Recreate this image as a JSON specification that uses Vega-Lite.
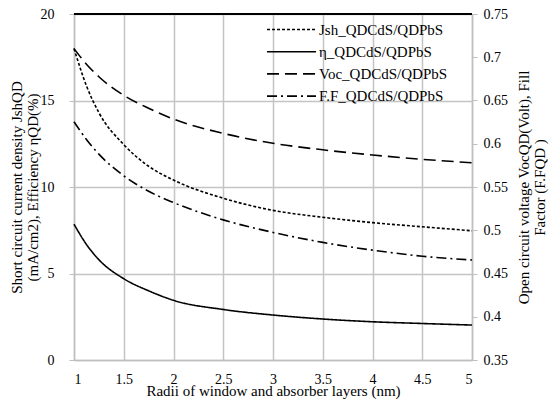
{
  "$schema": "https://vega.github.io/schema/vega-lite/v6.json",
  "width": 398,
  "height": 346,
  "autosize": "none",
  "padding": {"left": 74, "top": 14, "right": 77, "bottom": 45},
  "background": "white",
  "config": {
    "font": "Liberation Serif",
    "view": {"stroke": null},
    "axis": {
      "labelFont": "Liberation Serif",
      "titleFont": "Liberation Serif",
      "labelFontSize": 14,
      "titleFontSize": 15,
      "titleFontWeight": "normal",
      "labelColor": "black",
      "titleColor": "black",
      "domainColor": "#bfbfbf",
      "domainWidth": 1.5,
      "gridColor": "#c4c4c4",
      "gridWidth": 1.5,
      "gridOpacity": 1,
      "tickColor": "#bfbfbf"
    },
    "legend": {
      "labelFont": "Liberation Serif",
      "labelFontSize": 15,
      "labelColor": "black"
    }
  },
  "data": {
    "values": [
      {"series": "Jsh_QDCdS/QDPbS", "x": 1, "v": 18.0},
      {"series": "Jsh_QDCdS/QDPbS", "x": 1.125, "v": 15.85},
      {"series": "Jsh_QDCdS/QDPbS", "x": 1.25, "v": 14.3},
      {"series": "Jsh_QDCdS/QDPbS", "x": 1.5, "v": 12.45},
      {"series": "Jsh_QDCdS/QDPbS", "x": 1.75, "v": 11.2},
      {"series": "Jsh_QDCdS/QDPbS", "x": 2, "v": 10.4},
      {"series": "Jsh_QDCdS/QDPbS", "x": 2.5, "v": 9.35},
      {"series": "Jsh_QDCdS/QDPbS", "x": 3, "v": 8.65},
      {"series": "Jsh_QDCdS/QDPbS", "x": 3.5, "v": 8.25},
      {"series": "Jsh_QDCdS/QDPbS", "x": 4, "v": 7.94},
      {"series": "Jsh_QDCdS/QDPbS", "x": 4.5, "v": 7.7},
      {"series": "Jsh_QDCdS/QDPbS", "x": 5, "v": 7.47},
      {"series": "η_QDCdS/QDPbS", "x": 1, "v": 7.85},
      {"series": "η_QDCdS/QDPbS", "x": 1.125, "v": 6.68},
      {"series": "η_QDCdS/QDPbS", "x": 1.25, "v": 5.8},
      {"series": "η_QDCdS/QDPbS", "x": 1.5, "v": 4.7},
      {"series": "η_QDCdS/QDPbS", "x": 1.75, "v": 4.0},
      {"series": "η_QDCdS/QDPbS", "x": 2, "v": 3.45},
      {"series": "η_QDCdS/QDPbS", "x": 2.5, "v": 2.92},
      {"series": "η_QDCdS/QDPbS", "x": 3, "v": 2.6},
      {"series": "η_QDCdS/QDPbS", "x": 3.5, "v": 2.37},
      {"series": "η_QDCdS/QDPbS", "x": 4, "v": 2.21},
      {"series": "η_QDCdS/QDPbS", "x": 4.5, "v": 2.11},
      {"series": "η_QDCdS/QDPbS", "x": 5, "v": 2.02},
      {"series": "Voc_QDCdS/QDPbS", "x": 1, "v": 0.710},
      {"series": "Voc_QDCdS/QDPbS", "x": 1.125, "v": 0.692},
      {"series": "Voc_QDCdS/QDPbS", "x": 1.25, "v": 0.6775},
      {"series": "Voc_QDCdS/QDPbS", "x": 1.5, "v": 0.656},
      {"series": "Voc_QDCdS/QDPbS", "x": 1.75, "v": 0.641},
      {"series": "Voc_QDCdS/QDPbS", "x": 2, "v": 0.6285},
      {"series": "Voc_QDCdS/QDPbS", "x": 2.5, "v": 0.612},
      {"series": "Voc_QDCdS/QDPbS", "x": 3, "v": 0.6005},
      {"series": "Voc_QDCdS/QDPbS", "x": 3.5, "v": 0.593},
      {"series": "Voc_QDCdS/QDPbS", "x": 4, "v": 0.587},
      {"series": "Voc_QDCdS/QDPbS", "x": 4.5, "v": 0.582},
      {"series": "Voc_QDCdS/QDPbS", "x": 5, "v": 0.578},
      {"series": "F.F_QDCdS/QDPbS", "x": 1, "v": 0.6255},
      {"series": "F.F_QDCdS/QDPbS", "x": 1.125, "v": 0.605},
      {"series": "F.F_QDCdS/QDPbS", "x": 1.25, "v": 0.588},
      {"series": "F.F_QDCdS/QDPbS", "x": 1.5, "v": 0.563},
      {"series": "F.F_QDCdS/QDPbS", "x": 1.75, "v": 0.545},
      {"series": "F.F_QDCdS/QDPbS", "x": 2, "v": 0.532},
      {"series": "F.F_QDCdS/QDPbS", "x": 2.5, "v": 0.512},
      {"series": "F.F_QDCdS/QDPbS", "x": 3, "v": 0.4975},
      {"series": "F.F_QDCdS/QDPbS", "x": 3.5, "v": 0.486},
      {"series": "F.F_QDCdS/QDPbS", "x": 4, "v": 0.477},
      {"series": "F.F_QDCdS/QDPbS", "x": 4.5, "v": 0.470},
      {"series": "F.F_QDCdS/QDPbS", "x": 5, "v": 0.4656}
    ]
  },
  "layer": [
    {
      "transform": [{"filter": {"field": "series", "oneOf": ["Jsh_QDCdS/QDPbS", "η_QDCdS/QDPbS"]}}],
      "mark": {"type": "line", "color": "black", "strokeWidth": 1.6, "interpolate": "monotone"},
      "encoding": {
        "x": {
          "field": "x", "type": "quantitative",
          "scale": {"domain": [1, 5], "nice": false, "zero": false},
          "axis": {
            "values": [1, 1.5, 2, 2.5, 3, 3.5, 4, 4.5, 5],
            "format": ".1~f",
            "grid": true, "ticks": false, "labelPadding": 12,
            "title": "Radii of window and absorber layers (nm)",
            "titlePadding": -3
          }
        },
        "y": {
          "field": "v", "type": "quantitative",
          "scale": {"domain": [0, 20], "nice": false},
          "axis": {
            "orient": "left",
            "values": [0, 5, 10, 15, 20],
            "grid": true, "tickSize": 5, "labelPadding": 15,
            "title": ["Short circuit current density JshQD", "(mA/cm2), Efficiency ηQD(%)"],
            "titleLineHeight": 16,
            "titlePadding": 0
          }
        },
        "strokeDash": {
          "field": "series", "type": "nominal",
          "scale": {
            "domain": ["Jsh_QDCdS/QDPbS", "η_QDCdS/QDPbS", "Voc_QDCdS/QDPbS", "F.F_QDCdS/QDPbS"],
            "range": [[3, 2], [1, 0], [12, 6], [10, 4, 2, 4]]
          },
          "legend": {
            "orient": "none", "legendX": 204, "legendY": 2,
            "title": null, "symbolType": "M-2,0H2", "symbolSize": 600,
            "symbolStrokeWidth": 1.6, "symbolStrokeColor": "black",
            "symbolFillColor": "transparent",
            "labelOffset": 14, "rowPadding": 0.2
          }
        }
      }
    },
    {
      "layer": [
        {
          "transform": [{"filter": {"field": "series", "oneOf": ["Voc_QDCdS/QDPbS", "F.F_QDCdS/QDPbS"]}}],
          "mark": {"type": "line", "color": "black", "strokeWidth": 1.6, "interpolate": "monotone"},
          "encoding": {
            "x": {"field": "x", "type": "quantitative", "scale": {"domain": [1, 5], "nice": false, "zero": false}},
            "y": {
              "field": "v", "type": "quantitative",
              "scale": {"domain": [0.35, 0.75], "nice": false, "zero": false},
              "axis": {
                "orient": "right",
                "values": [0.35, 0.4, 0.45, 0.5, 0.55, 0.6, 0.65, 0.7, 0.75],
                "format": ".2~f",
                "grid": false, "tickSize": 5, "labelPadding": 6,
                "title": ["Open circuit voltage VocQD(Volt), Fill", "Factor (F.FQD )"],
                "titleAngle": 270,
                "titleLineHeight": 16,
                "titlePadding": 8
              }
            },
            "strokeDash": {
              "field": "series", "type": "nominal",
              "scale": {
                "domain": ["Jsh_QDCdS/QDPbS", "η_QDCdS/QDPbS", "Voc_QDCdS/QDPbS", "F.F_QDCdS/QDPbS"],
                "range": [[3, 2], [1, 0], [12, 6], [10, 4, 2, 4]]
              }
            }
          }
        },
        {
          "mark": {"type": "rule", "color": "black", "strokeWidth": 2},
          "encoding": {"y": {"datum": 0.75}}
        }
      ]
    }
  ],
  "resolve": {"scale": {"y": "independent"}}
}
